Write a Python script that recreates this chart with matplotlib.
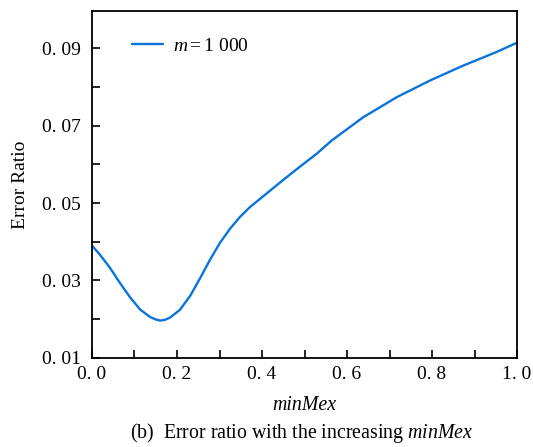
import matplotlib
matplotlib.use("Agg")
import matplotlib.pyplot as plt
from matplotlib.ticker import FixedLocator, FuncFormatter

min_mex = [0.000, 0.019, 0.042, 0.066, 0.089, 0.113, 0.137, 0.150, 0.160, 0.172,
           0.184, 0.207, 0.231, 0.254, 0.278, 0.301, 0.325, 0.348, 0.372, 0.411,
           0.450, 0.489, 0.529, 0.564, 0.638, 0.717, 0.795, 0.874, 0.952, 1.000]
error_ratio = [0.0390, 0.0366, 0.0333, 0.0293, 0.0257, 0.0225, 0.0205, 0.0199,
               0.0196, 0.0198, 0.0204, 0.0224, 0.0260, 0.0305, 0.0354, 0.0397,
               0.0434, 0.0464, 0.0490, 0.0525, 0.0560, 0.0594, 0.0628, 0.0662,
               0.0722, 0.0774, 0.0817, 0.0856, 0.0891, 0.0915]
y_major = [0.01, 0.03, 0.05, 0.07, 0.09]
y_minor = [0.02, 0.04, 0.06, 0.08]
x_major = [0.0, 0.2, 0.4, 0.6, 0.8, 1.0]
x_minor = [0.1, 0.3, 0.5, 0.7, 0.9]

plt.rcParams['font.family'] = ['Liberation Serif', 'DejaVu Serif']
plt.rcParams['mathtext.fontset'] = 'custom'
plt.rcParams['mathtext.it'] = 'Liberation Serif:italic'
plt.rcParams['mathtext.rm'] = 'Liberation Serif'

fig = plt.figure(figsize=(5.33, 4.47), dpi=100)
ax = fig.add_axes([0.1726, 0.1998, 0.7974, 0.7756])

ax.plot(min_mex, error_ratio, color='#0a74da', lw=1.7, label=r'$m=$1 000',
        solid_joinstyle='round', solid_capstyle='round')

ax.set_xlim(0, 1.0)
ax.set_ylim(0.01, 0.0997)
ax.xaxis.set_major_locator(FixedLocator(x_major))
ax.xaxis.set_minor_locator(FixedLocator(x_minor))
ax.yaxis.set_major_locator(FixedLocator(y_major))
ax.yaxis.set_minor_locator(FixedLocator(y_minor))
ax.xaxis.set_major_formatter(FuncFormatter(lambda v, p: f"{v:.1f}".replace('.', '. ')))
ax.yaxis.set_major_formatter(FuncFormatter(lambda v, p: f"{v:.2f}".replace('.', '. ')))
ax.tick_params(which='both', direction='in', length=6, width=1.2, top=False, right=False,
               labelsize=14, color='black')
ax.tick_params(axis='x', pad=6)
ax.tick_params(axis='y', pad=8)
for s in ax.spines.values():
    s.set_linewidth(1.3)

ax.set_xlabel('minMex', fontsize=14.3, style='italic', labelpad=9)
ax.set_ylabel('Error Ratio', fontsize=14, labelpad=9)

leg = ax.legend(loc='center left', frameon=False, fontsize=14, handlelength=1.6,
                bbox_to_anchor=(0.094, 0.899), handletextpad=0.5,
                borderaxespad=0, borderpad=0)

fig.text(0.566, 0.004, r'(b)  Error ratio with the increasing $minMex$', ha='center',
         va='bottom', fontsize=14.3)

fig.savefig('out.png', dpi=100)
